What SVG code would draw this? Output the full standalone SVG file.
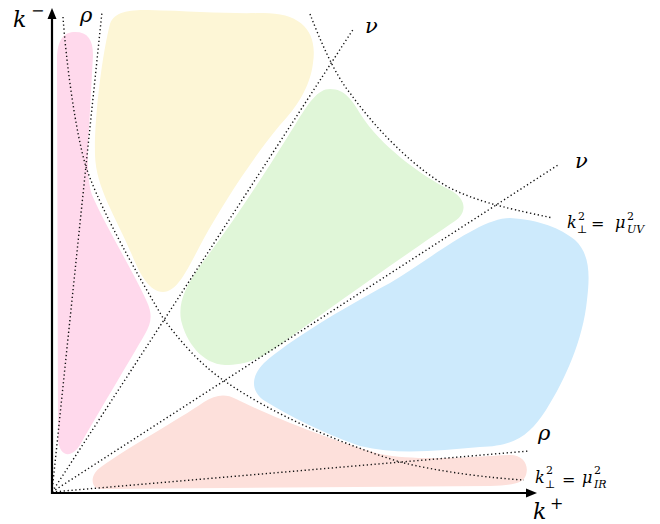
<svg xmlns="http://www.w3.org/2000/svg" width="660" height="524" viewBox="0 0 660 524">
<style>
.dot{fill:none;stroke:#111;stroke-width:1.4;stroke-dasharray:1.3 2.6}
.ax{fill:none;stroke:#000;stroke-width:2.2}
</style>
<rect width="660" height="524" fill="#fff"/>
<g id="regions">
<path id="pink" fill="#ffd9ec" d="M57,60 C57,38 65,32 75,32 C88,32 93,40 93,55 L90,110 C88,150 86,176 92,195 C105,225 135,275 147,302 C153,315 151,324 145,334 C130,360 100,410 80,445 C72,458 60,458 58,440 Z"/>
<path id="yellow" fill="#fdf6d6" d="M110,24 C114,12 128,10 148,10 C190,11 230,14 260,13 C300,12 318,30 313,63 C310,88 296,108 280,125 C255,155 225,200 203,240 C188,268 178,292 163,292 C150,292 140,275 132,255 C115,215 96,188 95,155 C94,120 102,55 110,24 Z"/>
<path id="green" fill="#e0f6d8" d="M330,89 C345,89 352,100 361,115 C380,145 420,175 450,190 C466,198 468,212 455,221 C420,245 340,300 280,345 C258,361 242,365 225,365 C202,364 186,342 181,320 C178,302 186,286 200,266 C238,216 270,165 295,125 C309,102 318,89 330,89 Z"/>
<path id="blue" fill="#cdeafc" d="M510,218 C540,220 560,228 575,240 C590,254 590,275 587,300 C583,340 565,380 546,410 C530,435 515,446 480,447 C440,450 400,456 360,446 C320,432 290,416 265,401 C250,391 251,376 264,363 C290,340 340,310 390,283 C432,258 480,218 510,218 Z"/>
<path id="salmon" fill="#fde0db" d="M100,489 C90,488 90,474 101,467 C130,446 178,420 204,402 C215,395 225,393 236,399 C270,416 330,440 380,454 C420,462 480,456 510,455 C524,455 529,466 526,475 C523,484 512,485 490,486 Z"/>
</g>
<g id="connectors">
<path id="rho-steep" class="dot" d="M52,492 L102,12"/>
<path id="nu-steep" class="dot" d="M52,492 L354,28"/>
<path id="nu-shallow" class="dot" d="M52,492 L558,165"/>
<path id="rho-shallow" class="dot" d="M52,492 L529,451"/>
<path id="ir" class="dot" d="M63,17 C66,60 75,130 86,167 C96,197 120,245 163,318 C185,348 205,368 226,382 C270,412 330,440 400,462 C440,472 490,478 524,480"/>
<path id="uv" class="dot" d="M310,14 C320,40 335,75 350,93 C380,135 420,172 450,188 C475,200 495,206 553,218"/>
</g>
<g id="axes">
<path class="ax" d="M52,494 L52,17"/>
<path d="M52,8 L56.5,19 L47.5,19 Z" fill="#000"/>
<path class="ax" d="M51,493 L527,493"/>
<path d="M537,493 L526,488.5 L526,497.5 Z" fill="#000"/>
</g>
<g id="labels" font-family="'DejaVu Serif', serif" fill="#000">
<text font-style="italic" x="13" y="27" font-size="22">k</text>
<text x="31" y="16" font-size="16">−</text>
<text font-style="italic" x="533" y="519" font-size="22">k</text>
<text x="550" y="509" font-size="16">+</text>
<text font-style="italic" x="80" y="22" font-size="21">ρ</text>
<text font-style="italic" x="365" y="33" font-size="21">ν</text>
<text font-style="italic" x="575" y="168" font-size="21">ν</text>
<text font-style="italic" x="538" y="440" font-size="21">ρ</text>
<text font-style="italic" x="567" y="228" font-size="16">k</text>
<text x="578" y="220" font-size="11">2</text>
<text x="577" y="233" font-size="11">⊥</text>
<text x="591" y="229" font-size="16">=</text>
<text font-style="italic" x="615" y="228" font-size="16">μ</text>
<text x="627" y="220" font-size="11">2</text>
<text font-style="italic" x="627" y="233" font-size="11">UV</text>
<text font-style="italic" x="535" y="483" font-size="16">k</text>
<text x="546" y="474" font-size="11">2</text>
<text x="545" y="488" font-size="11">⊥</text>
<text x="562" y="485" font-size="16">=</text>
<text font-style="italic" x="582" y="483" font-size="16">μ</text>
<text x="594" y="474" font-size="11">2</text>
<text font-style="italic" x="594" y="488" font-size="11">IR</text>
</g>
</svg>
